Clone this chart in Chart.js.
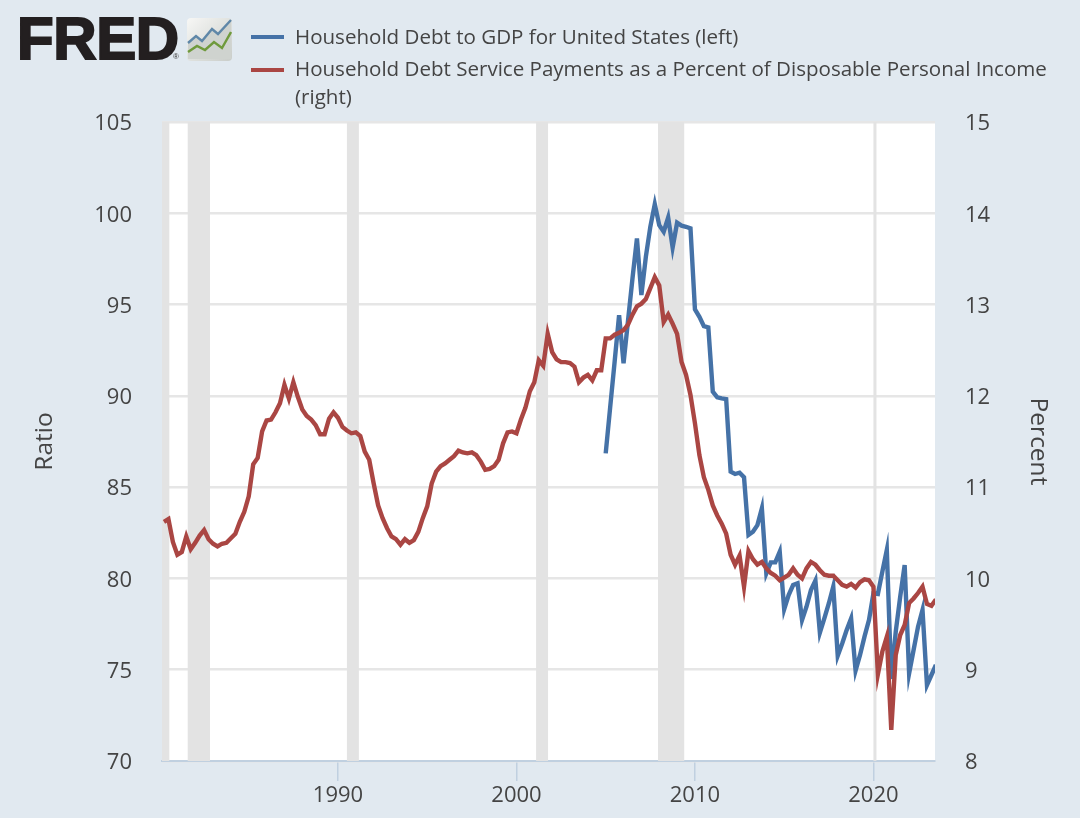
<!DOCTYPE html>
<html>
<head>
<meta charset="utf-8">
<title>FRED household debt</title>
<script src="https://cdn.jsdelivr.net/npm/chart.js@4"></script>
<style>
  html, body {margin:0; padding:0; background:#e1e9f0;}
  #wrap {position:relative; width:1080px; height:818px; overflow:hidden; font-family:"Open Sans", sans-serif; color:#444444;}
  #myChart {position:absolute; left:0; top:0;}
  .logo {position:absolute; left:17px; top:7px; font:bold 60px/64px "Liberation Sans", sans-serif; letter-spacing:-0.4px; color:#231f20; -webkit-text-stroke:2px #231f20;}
  .reg {position:absolute; left:173px; top:52px; font:8px/9px "Liberation Sans", sans-serif; color:#333;}
  .icon {position:absolute; left:187px; top:18px;}
  .key {position:absolute; left:251px; width:33px; height:4px;}
  .txt {position:absolute; left:295px; font-size:20.55px; line-height:28px; white-space:nowrap;}
</style>
</head>
<body>
<div id="wrap">
  <canvas id="myChart" width="1080" height="818"></canvas>
  <div class="logo">FRED</div>
  <div class="reg">®</div>
  <svg class="icon" width="45" height="43" viewBox="0 0 45 43">
    <defs><linearGradient id="g" x1="0" y1="0" x2="1" y2="1"><stop offset="0" stop-color="#f7f7f5"/><stop offset="1" stop-color="#c9cdc9"/></linearGradient></defs>
    <rect width="45" height="43" rx="4" fill="url(#g)"/>
    <polygon points="1,25 9,18 15,23 25,11 31,16 44,2 44,41 1,41" fill="#cfd3cf"/>
    <polyline points="1,25 9,18 15,23 25,11 31,16 44,2" fill="none" stroke="#5f87a8" stroke-width="2.4"/>
    <polyline points="1,34 10,28 18,32 27,24 35,30 44,14" fill="none" stroke="#6f9a3c" stroke-width="2.4"/>
  </svg>
  <div class="key" id="key0" style="top:35px"></div>
  <div class="txt" id="txt0" style="top:22px"></div>
  <div class="key" id="key1" style="top:68px"></div>
  <div class="txt" id="txt1" style="top:54px"></div>
  <div class="txt" id="txt2" style="top:82px"></div>
</div>
<script>
const seriesNames = ['Household Debt to GDP for United States (left)', 'Household Debt Service Payments as a Percent of Disposable Personal Income', '(right)']
const seriesColors = ['#4572a7', '#aa4643']

// quarterly, red starts 1980 Q2, blue starts 2005 Q1
const firstRedDate = 1980.25
const firstBlueDate = 2005.0
const debtToGdp = [
  86.85,89.37,91.87,94.42,91.78,94.11,96.43,98.62,95.52,97.62,
  99.26,100.50,99.35,98.99,99.77,98.13,99.48,99.32,99.26,99.17,
  94.74,94.33,93.82,93.75,90.23,89.92,89.86,89.82,85.85,85.72,
  85.79,85.54,82.38,82.56,82.92,83.84,80.28,80.88,80.88,81.46,
  78.31,79.09,79.64,79.73,77.72,78.45,79.36,79.88,77.03,77.81,
  78.63,79.55,75.77,76.44,77.17,77.81,74.95,75.81,76.81,77.72,
  79.18,79.15,80.37,81.56,74.49,77.08,79.00,80.73,74.80,76.08,
  77.36,78.27,74.16,74.71,75.26
]
const debtService = [
  10.62,10.65,10.40,10.26,10.29,10.46,10.32,10.39,10.47,10.53,
  10.43,10.38,10.35,10.38,10.39,10.44,10.49,10.62,10.73,10.90,
  11.25,11.32,11.61,11.73,11.74,11.82,11.92,12.12,11.97,12.15,
  11.99,11.85,11.78,11.74,11.68,11.58,11.58,11.75,11.82,11.76,
  11.66,11.62,11.59,11.60,11.56,11.39,11.30,11.04,10.80,10.66,
  10.55,10.46,10.43,10.37,10.43,10.39,10.42,10.51,10.66,10.79,
  11.04,11.17,11.23,11.26,11.30,11.34,11.40,11.38,11.37,11.38,
  11.35,11.28,11.19,11.20,11.23,11.30,11.48,11.60,11.61,11.59,
  11.74,11.87,12.05,12.15,12.39,12.33,12.68,12.48,12.40,12.37,
  12.37,12.36,12.32,12.15,12.20,12.23,12.17,12.28,12.28,12.63,
  12.63,12.67,12.69,12.72,12.78,12.89,12.98,13.01,13.06,13.18,
  13.30,13.21,12.81,12.89,12.79,12.68,12.37,12.23,12.01,11.70,
  11.35,11.11,10.97,10.80,10.69,10.60,10.49,10.26,10.15,10.25,
  9.91,10.30,10.21,10.15,10.18,10.11,10.06,10.03,9.98,10.01,
  10.04,10.11,10.04,10.00,10.11,10.18,10.15,10.09,10.04,10.03,
  10.03,9.98,9.93,9.91,9.94,9.90,9.96,9.99,9.98,9.91,
  8.95,9.20,9.36,8.34,9.16,9.38,9.49,9.73,9.78,9.84,
  9.91,9.72,9.70,9.77
]
const recessionStart = [1980.0, 1981.58, 1990.5, 2001.1, 2007.93, 2020.0]
const recessionEnd = [1980.55, 1982.83, 1991.17, 2001.77, 2009.4, 2020.17]

const toPoints = (values, start) => values.map((v, i) => ({x: start + i / 4, y: v}))

const textColor = '#444444'
const tickFont = {family: '"Open Sans"', size: 22}
const titleFont = {family: '"Open Sans"', size: 24.5}

// white plot area and grey recession bands go under the lines
const plotBack = {
  id: 'plotBack',
  beforeDraw(chart) {
    const {ctx, chartArea: {top, left, width, height}} = chart
    ctx.save()
    ctx.fillStyle = '#ffffff'
    ctx.fillRect(left, top, width, height)
    ctx.restore()
  },
  beforeDatasetsDraw(chart) {
    const {ctx, chartArea: {top, bottom, left, right}, scales: {x}} = chart
    ctx.save()
    ctx.fillStyle = '#e3e3e3'
    recessionStart.forEach((s, i) => {
      const x0 = Math.max(x.getPixelForValue(s), left)
      const x1 = Math.min(x.getPixelForValue(recessionEnd[i]), right)
      ctx.fillRect(x0, top, x1 - x0, bottom - top)
    })
    ctx.restore()
  }
}

const config = {
  type: 'line',
  data: {
    datasets: [
      {label: seriesNames[0], data: toPoints(debtToGdp, firstBlueDate), yAxisID: 'y', borderColor: seriesColors[0], borderWidth: 4.4, pointRadius: 0, tension: 0, order: 2, borderJoinStyle: 'miter'},
      {label: seriesNames[1] + ' ' + seriesNames[2], data: toPoints(debtService, firstRedDate), yAxisID: 'y1', borderColor: seriesColors[1], borderWidth: 4.4, pointRadius: 0, tension: 0, order: 1, borderJoinStyle: 'miter'}
    ]
  },
  options: {
    responsive: false,
    animation: false,
    layout: {padding: {top: 122}},
    scales: {
      x: {
        type: 'linear',
        min: 1980.14,
        max: 2023.45,
        afterFit: (s) => { s.height = 57 },
        border: {color: '#c0d0e0', width: 2},
        grid: {drawOnChartArea: false, color: '#c0d0e0', lineWidth: 1.5, tickLength: 20},
        ticks: {stepSize: 10, includeBounds: false, maxRotation: 0, color: textColor, font: tickFont, padding: 2, callback: (v) => String(v)}
      },
      y: {
        position: 'left',
        min: 70,
        max: 105,
        afterFit: (s) => { s.width = 162 },
        border: {display: false},
        grid: {color: '#e6e6e6', lineWidth: 2.5, drawTicks: false},
        ticks: {stepSize: 5, color: textColor, font: tickFont, padding: 30, labelOffset: 2},
        title: {display: true, text: 'Ratio', color: textColor, font: titleFont, padding: {top: 30, bottom: 0}}
      },
      y1: {
        position: 'right',
        min: 8,
        max: 15,
        afterFit: (s) => { s.width = 145 },
        border: {display: false},
        grid: {drawOnChartArea: false, drawTicks: false},
        ticks: {stepSize: 1, color: textColor, font: tickFont, padding: 30, labelOffset: 2},
        title: {display: true, text: 'Percent', color: textColor, font: titleFont, padding: {top: 27, bottom: 0}}
      }
    },
    plugins: {legend: {display: false}, tooltip: {enabled: false}}
  },
  plugins: [plotBack]
}

document.getElementById('key0').style.background = seriesColors[0]
document.getElementById('key1').style.background = seriesColors[1]
document.getElementById('txt0').textContent = seriesNames[0]
document.getElementById('txt1').textContent = seriesNames[1]
document.getElementById('txt2').textContent = seriesNames[2]

const myChart = new Chart(document.getElementById('myChart'), config)
</script>
</body>
</html>
